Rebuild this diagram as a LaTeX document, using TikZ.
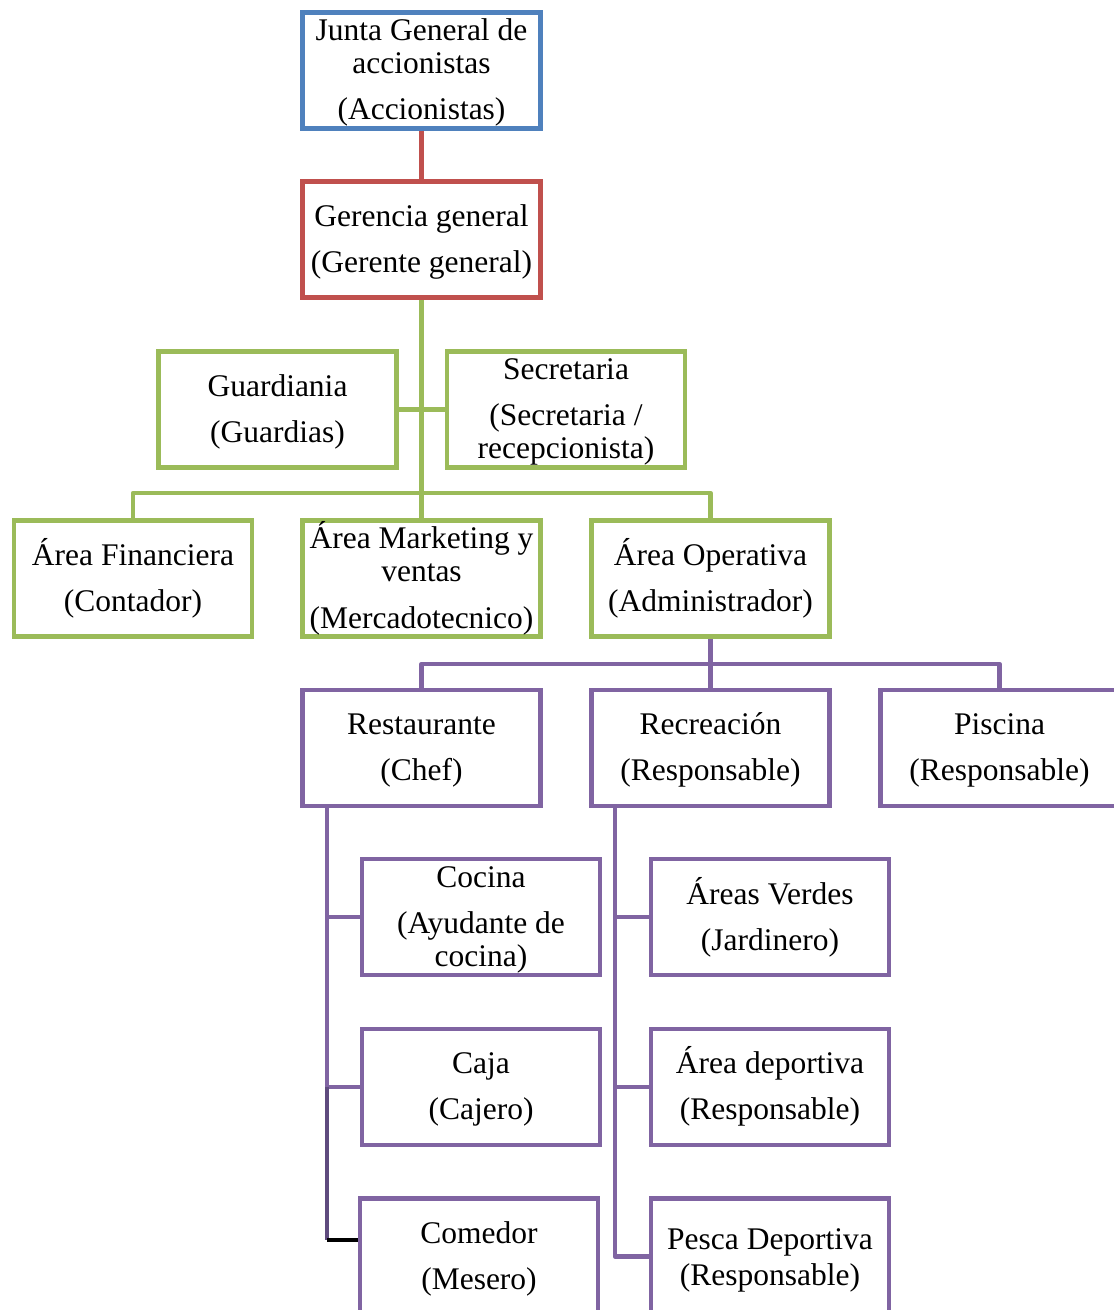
\documentclass[tikz,border=0pt]{standalone}
\usepackage{fontspec}
\setmainfont{Liberation Serif}
\definecolor{cblue}{HTML}{4F81BD}
\definecolor{cred}{HTML}{C0504D}
\definecolor{cgreen}{HTML}{9BBB59}
\definecolor{cpurple}{HTML}{8064A2}
\definecolor{cdark}{HTML}{5F4B7E}
\newcommand\tline[4]{\node[txt] (#1) at (#2,#3) {#4};}
\begin{document}
\begin{tikzpicture}[x=1pt,y=-1pt,
  box/.style={draw=#1,line width=4.6,minimum width=238,minimum height=116,inner sep=0,fill=white},
  link/.style={draw=#1,line width=4.6,line join=round},
  txt/.style={anchor=base,inner sep=0,font=\fontsize{31.5pt}{36pt}\selectfont}]
\useasboundingbox (0,0) rectangle (1114,1310);
\clip (0,0) rectangle (1114,1310);

% boxes
\node[box=cblue]   (junta)  at (421.5,70.5)  {};
\node[box=cred]    (ger)    at (421.5,239.5) {};
\node[box=cgreen]  (guard)  at (277.5,409.5) {};
\node[box=cgreen]  (secr)   at (566,409.5)   {};
\node[box=cgreen]  (fin)    at (133,578.5)   {};
\node[box=cgreen]  (mkt)    at (421.5,578.5) {};
\node[box=cgreen]  (op)     at (710.5,578.5) {};
\node[box=cpurple] (rest)   at (421.5,748)   {};
\node[box=cpurple] (recr)   at (710.5,748)   {};
\node[box=cpurple] (pisc)   at (999.5,748)   {};
\node[box=cpurple] (cocina) at (481,917)     {};
\node[box=cpurple] (caja)   at (481,1087)    {};
\node[box=cpurple] (comed)  at (479,1256.5)  {};
\node[box=cpurple] (verdes) at (770,917)     {};
\node[box=cpurple] (deport) at (770,1087)    {};
\node[box=cpurple] (pesca)  at (770,1256.5)  {};

% bus points
\coordinate (gbus) at (421.5,493);
\coordinate (pbus) at (710.5,664);
\coordinate (rtrunk) at (327,808);
\coordinate (cstub) at (327,1240);
\coordinate (vtrunk) at (615,808);

% connectors
\draw[link=cred] (junta.south) -- (ger.north);
\draw[link=cgreen] (ger.south) -- (gbus);
\draw[link=cgreen] (guard.east) -- (secr.west);
\draw[link=cgreen] (fin.north) -- (fin.north |- gbus) -- (op.north |- gbus) -- (op.north);
\draw[link=cgreen] (mkt.north) -- (gbus);
\draw[link=cpurple] (op.south) -- (pbus);
\draw[link=cpurple] (rest.north) -- (rest.north |- pbus) -- (pisc.north |- pbus) -- (pisc.north);
\draw[link=cpurple] (recr.north) -- (pbus);
\draw[link=cpurple] (rtrunk) |- (cocina.west);
\draw[link=cpurple] (rtrunk) |- (caja.west);
\draw[link=cdark] (rtrunk |- caja.west) -- (cstub);
\draw[link=black] (cstub) -- (cstub -| comed.west);
\draw[link=cpurple] (vtrunk) |- (verdes.west);
\draw[link=cpurple] (vtrunk) |- (deport.west);
\draw[link=cpurple] (vtrunk) |- (pesca.west);

% labels
\tline{ja}{421.5}{40}{Junta General de}
\tline{jb}{421.5}{73}{accionistas}
\tline{jc}{421.5}{119}{(Accionistas)}
\tline{ga}{421.5}{226}{Gerencia general}
\tline{gb}{421.5}{272}{(Gerente general)}
\tline{gua}{277.5}{396}{Guardiania}
\tline{gub}{277.5}{442}{(Guardias)}
\tline{sa}{566}{379}{Secretaria}
\tline{sb}{566}{425}{(Secretaria /}
\tline{sc}{566}{458}{recepcionista)}
\tline{fa}{133}{565}{Área Financiera}
\tline{fb}{133}{611}{(Contador)}
\tline{ma}{421.5}{548}{Área Marketing y}
\tline{mb}{421.5}{581}{ventas}
\tline{mc}{421.5}{628}{(Mercadotecnico)}
\tline{oa}{710.5}{565}{Área Operativa}
\tline{ob}{710.5}{611}{(Administrador)}
\tline{ra}{421.5}{734}{Restaurante}
\tline{rb}{421.5}{780}{(Chef)}
\tline{rca}{710.5}{734}{Recreación}
\tline{rcb}{710.5}{780}{(Responsable)}
\tline{pa}{999.5}{734}{Piscina}
\tline{pb}{999.5}{780}{(Responsable)}
\tline{ca}{481}{887}{Cocina}
\tline{cb}{481}{933}{(Ayudante de}
\tline{cc}{481}{966}{cocina)}
\tline{ka}{481}{1073}{Caja}
\tline{kb}{481}{1119}{(Cajero)}
\tline{cma}{479}{1243}{Comedor}
\tline{cmb}{479}{1289}{(Mesero)}
\tline{va}{770}{904}{Áreas Verdes}
\tline{vb}{770}{950}{(Jardinero)}
\tline{da}{770}{1073}{Área deportiva}
\tline{db}{770}{1119}{(Responsable)}
\tline{pea}{770}{1249}{Pesca Deportiva}
\tline{peb}{770}{1285}{(Responsable)}
\end{tikzpicture}
\end{document}
